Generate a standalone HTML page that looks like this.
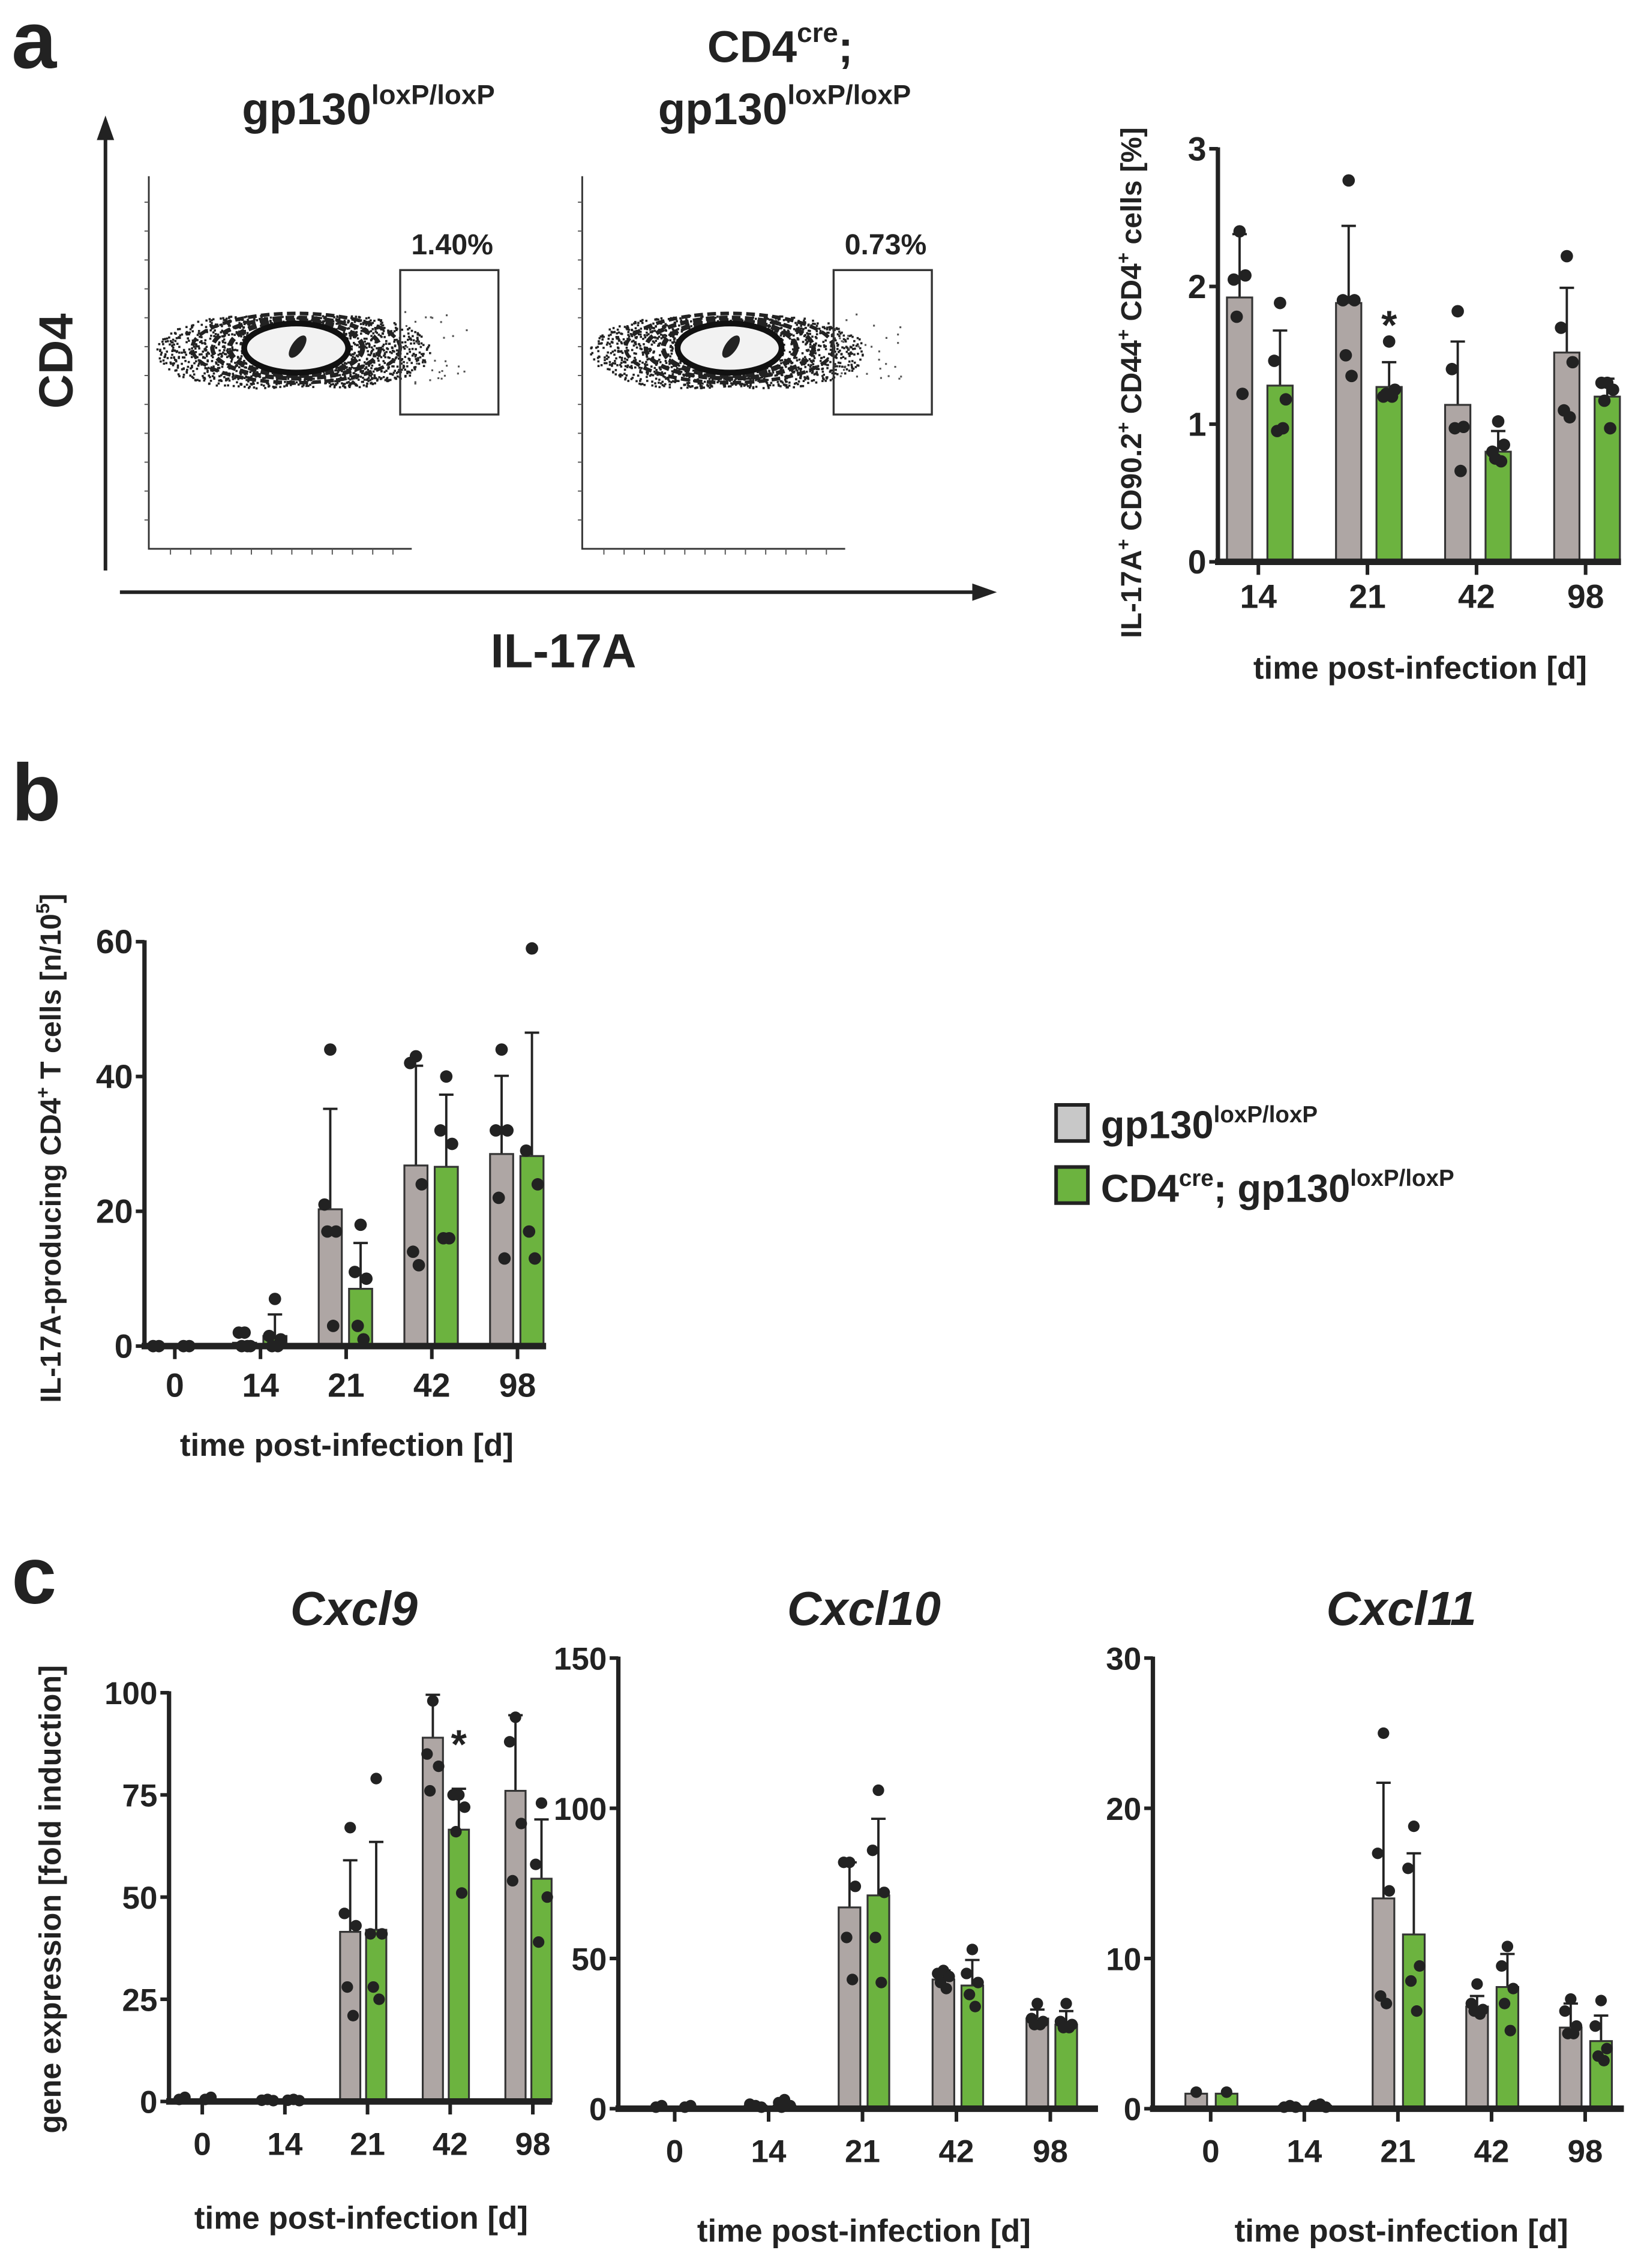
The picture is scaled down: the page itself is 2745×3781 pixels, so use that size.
<!DOCTYPE html>
<html><head><meta charset="utf-8">
<style>
html,body{margin:0;padding:0;background:#fff;}
svg{display:block;}
text{font-family:"Liberation Sans",Arial,sans-serif;font-weight:bold;fill:#222;}
</style></head>
<body>
<svg id="fig" width="2745" height="3781" viewBox="0 0 1140 1570.3" preserveAspectRatio="none" xmlns="http://www.w3.org/2000/svg">
<g id="panelA">
  <text x="8" y="47" font-size="56">a</text>
  <text x="255" y="86" font-size="31" text-anchor="middle">gp130<tspan font-size="19" dy="-14">loxP/loxP</tspan></text>
  <text x="540" y="43" font-size="31" text-anchor="middle">CD4<tspan font-size="19" dy="-14">cre</tspan><tspan dy="14">;</tspan></text>
  <text x="543" y="86" font-size="31" text-anchor="middle">gp130<tspan font-size="19" dy="-14">loxP/loxP</tspan></text>
  <line x1="73" y1="395" x2="73" y2="95" stroke="#222" stroke-width="2.5"/>
  <polygon points="67,97 79,97 73,80" fill="#222"/>
  <text transform="translate(50,250) rotate(-90)" font-size="33" text-anchor="middle">CD4</text>
  <line x1="83" y1="410" x2="675" y2="410" stroke="#222" stroke-width="2.5"/>
  <polygon points="673,404 673,416 690,410" fill="#222"/>
  <text x="390" y="462" font-size="33" text-anchor="middle">IL-17A</text>
  <g id="flow1"></g>
  <g id="flow2"></g>
  <g id="chartA"></g>
</g>
<g id="panelB">
  <text x="8" y="568" font-size="56">b</text>
  <g id="chartB"></g>
  <g>
    <rect x="731" y="765" width="22" height="25" fill="#c8c8c8" stroke="#222" stroke-width="2.5"/>
    <text x="762" y="788" font-size="27">gp130<tspan font-size="16" dy="-11">loxP/loxP</tspan></text>
    <rect x="731" y="808" width="22" height="25" fill="#6cb33f" stroke="#222" stroke-width="2.5"/>
    <text x="762" y="832" font-size="27">CD4<tspan font-size="16" dy="-11">cre</tspan><tspan dy="11">; gp130</tspan><tspan font-size="16" dy="-11">loxP/loxP</tspan></text>
  </g>
</g>
<g id="panelC">
  <text x="8" y="1110" font-size="56">c</text>
  <text x="245" y="1125" font-size="33" font-style="italic" text-anchor="middle">Cxcl9</text>
  <text x="598" y="1125" font-size="33" font-style="italic" text-anchor="middle">Cxcl10</text>
  <text x="970" y="1125" font-size="33" font-style="italic" text-anchor="middle">Cxcl11</text>
  <text transform="translate(42,1315) rotate(-90)" font-size="21" text-anchor="middle">gene expression [fold induction]</text>
  <g id="chartC1"></g>
  <g id="chartC2"></g>
  <g id="chartC3"></g>
</g>
</svg>
<script>
// ---------- data ----------
const catsA = ['14','21','42','98'];
const wtMeanA = [1.92,1.88,1.14,1.52];
const wtErrA = [2.38,2.44,1.60,1.99];
const koMeanA = [1.28,1.27,0.80,1.20];
const koErrA = [1.68,1.45,0.95,1.33];
const wtPtsA = [[2.40,2.05,2.08,1.78,1.22],[2.77,1.90,1.90,1.50,1.35],[1.82,1.40,0.98,0.97,0.66],[2.22,1.70,1.45,1.10,1.05]];
const koPtsA = [[1.88,1.46,1.18,0.95,0.97],[1.60,1.20,1.25,1.22,1.20],[1.02,0.80,0.85,0.75,0.73],[1.30,1.30,1.25,1.17,0.97]];
const ticksA = [0,1,2,3];

const catsB = ['0','14','21','42','98'];
const wtMeanB = [0,0.5,20.3,26.8,28.5];
const wtErrB = [0,0.5,35.2,41.6,40.1];
const koMeanB = [0,1.5,8.5,26.6,28.2];
const koErrB = [0,4.7,15.3,37.3,46.5];
const wtPtsB = [[0,0],[2,2,0,0,0],[44,21,17,17,3],[43,42,24,14,12],[44,32,32,22,13]];
const koPtsB = [[0,0],[7,1.5,1,0,0],[18,11,10,3,1],[40,32,30,16,16],[59,29,24,17,13]];
const ticksB = [0,20,40,60];

const catsC = ['0','14','21','42','98'];
const wtMeanC1 = [0.5,0.3,41.5,89,76];
const wtErrC1 = [0.5,0.3,59,99.5,94.5];
const koMeanC1 = [0.5,0.3,42,66.5,54.5];
const koErrC1 = [0.5,0.3,63.5,76.5,69];
const wtPtsC1 = [[1,0.5],[0.5,0.3,0.2],[67,46,43,28,21],[98,85,82,76],[94,88,68,54]];
const koPtsC1 = [[1,0.5],[0.5,0.3,0.2],[79,41,41,28,25],[75,75,72,66,51],[73,58,50,39]];
const ticksC1 = [0,25,50,75,100];

const wtMeanC2 = [0.5,1,67,43,30];
const wtErrC2 = [0.5,1,82,46,33];
const koMeanC2 = [0.5,1,71,41,28];
const koErrC2 = [0.5,1,96.5,49.5,32.5];
const wtPtsC2 = [[1,0.5],[1,1.5,0.5],[82,82,74,57,43],[46,45,44,42,40],[35,30,29,28,28]];
const koPtsC2 = [[1,0.5],[3,2,1,0.5],[106,86,72,57,42],[53,45,42,38,34],[35,29,28,27,27]];
const ticksC2 = [0,50,100,150];

const wtMeanC3 = [1.0,0.2,14,6.8,5.4];
const wtErrC3 = [1.0,0.2,21.7,7.5,7.0];
const koMeanC3 = [1.0,0.2,11.6,8.1,4.5];
const koErrC3 = [1.0,0.2,17,10.3,6.2];
const wtPtsC3 = [[1.1],[0.2,0.1,0.1],[25,17,14.5,7.5,7],[8.3,7,6.6,6.5,6.3],[7.3,6.5,5.5,5,5]];
const koPtsC3 = [[1.1],[0.3,0.2,0.1],[18.8,16,9.5,8.5,6.5],[10.8,9.5,8,7,5.2],[7.2,5.5,4,3.5,3.2]];
const ticksC3 = [0,10,20,30];

// ---------- drawing ----------
const NS='http://www.w3.org/2000/svg';
const GRAY='#aea6a4', GREEN='#6cb33f', INK='#222';
function mk(tag, parent, attrs){
  const e=document.createElementNS(NS,tag);
  for(const k in attrs) e.setAttribute(k,attrs[k]);
  parent.appendChild(e); return e;
}
const jit=[0,-4,4,-2,2];
function drawChart(g, o){
  const yS=v=>o.y0-(v-o.ymin)/(o.ymax-o.ymin)*(o.y0-o.y1);
  const xS=i=>o.xStart+i*o.step;
  o.cats.forEach((c,i)=>{
    const series=[[o.wtM,o.wtE,o.wtP,GRAY,-o.off,'wt'],[o.koM,o.koE,o.koP,GREEN,o.off2,'ko']];
    series.forEach(s=>{
      const cx=xS(i)+s[4], m=s[0][i], e=s[1][i];
      if(e>m){
        const l=mk('line',g,{x1:cx,x2:cx,y1:yS(m),y2:yS(e),stroke:INK,'stroke-width':1.6});
        
        
        const cap=mk('line',g,{x1:cx-5,x2:cx+5,y1:yS(e),y2:yS(e),stroke:INK,'stroke-width':1.6});
        
        
      }
      const r=mk('rect',g,{x:cx-o.bw/2,y:yS(m),width:o.bw,height:Math.max(0,o.y0-yS(m)),fill:s[3],stroke:'#333','stroke-width':1.3});
      
      
      s[2][i].forEach((v,j)=>{
        const d=mk('circle',g,{cx:cx+jit[j%5],cy:yS(v),r:o.r||4.3,fill:INK});
        
        
      });
    });
    const t=mk('line',g,{x1:xS(i),x2:xS(i),y1:o.y0,y2:o.y0+9,stroke:INK,'stroke-width':2.5});
    
    
    const tl=mk('text',g,{x:xS(i),y:o.y0+o.tly,'font-size':o.tfs||23,'text-anchor':'middle'});
    tl.textContent=c;
    
    
  });
  const ya=mk('line',g,{x1:o.x0,x2:o.x0,y1:o.y1-1,y2:o.y0,stroke:INK,'stroke-width':3});
  
  
  const xa=mk('line',g,{x1:o.x0-2,x2:o.xEnd,y1:o.y0,y2:o.y0,stroke:INK,'stroke-width':4.5});
  
  
  o.ticks.forEach(v=>{
    const t=mk('line',g,{x1:o.x0-6,x2:o.x0,y1:yS(v),y2:yS(v),stroke:INK,'stroke-width':2.5});
    
    
    const tl=mk('text',g,{x:o.x0-8,y:yS(v)+8,'font-size':o.tfs||23,'text-anchor':'end'});
    tl.textContent=v;
    
    
  });
  if(o.xt){
    const xt=mk('text',g,{x:o.xtx,y:o.xty,'font-size':22,'text-anchor':'middle'});
    xt.textContent=o.xt;
    
    
  }
  (o.stars||[]).forEach(s=>{
    const st=mk('text',g,{x:xS(s[0])+o.off2,y:yS(s[1]),'font-size':28,'text-anchor':'middle'});
    st.textContent='*';
    
    
  });
  return {xS,yS};
}

drawChart(document.getElementById('chartA'),{cats:catsA,wtM:wtMeanA,wtE:wtErrA,koM:koMeanA,koE:koErrA,wtP:wtPtsA,koP:koPtsA,
  ticks:ticksA,ymin:0,ymax:3,y0:389,y1:103,x0:843,xEnd:1122,xStart:871,step:75.5,off:13,off2:15,bw:17.5,tly:32,
  xt:'time post-infection [d]',xtx:983,xty:470,stars:[[1,1.62]]});
(function(){
  const g=document.getElementById('chartA');
  const t=mk('text',g,{transform:'translate(790,265) rotate(-90)','font-size':20,'text-anchor':'middle'});
  t.innerHTML='IL-17A<tspan font-size="13" dy="-8">+</tspan><tspan dy="8"> CD90.2</tspan><tspan font-size="13" dy="-8">+</tspan><tspan dy="8"> CD44</tspan><tspan font-size="13" dy="-8">+</tspan><tspan dy="8"> CD4</tspan><tspan font-size="13" dy="-8">+</tspan><tspan dy="8"> cells [%]</tspan>';
  
  
})();

drawChart(document.getElementById('chartB'),{cats:catsB,wtM:wtMeanB,wtE:wtErrB,koM:koMeanB,koE:koErrB,wtP:wtPtsB,koP:koPtsB,
  ticks:ticksB,ymin:0,ymax:60,y0:932,y1:652,x0:100,xEnd:378,xStart:121,step:59.3,off:11,off2:10,bw:16,tly:35,
  xt:'time post-infection [d]',xtx:240,xty:1008});
(function(){
  const g=document.getElementById('chartB');
  const t=mk('text',g,{transform:'translate(42,795) rotate(-90)','font-size':20,'text-anchor':'middle'});
  t.innerHTML='IL-17A-producing CD4<tspan font-size="13" dy="-8">+</tspan><tspan dy="8"> T cells [n/10</tspan><tspan font-size="13" dy="-8">5</tspan><tspan dy="8">]</tspan>';
  
  
})();

drawChart(document.getElementById('chartC1'),{cats:catsC,wtM:wtMeanC1,wtE:wtErrC1,koM:koMeanC1,koE:koErrC1,wtP:wtPtsC1,koP:koPtsC1,
  ticks:ticksC1,ymin:0,ymax:100,y0:1455,y1:1172,x0:117,xEnd:382,xStart:140,step:57.2,off:12,off2:6,bw:14,tly:37,r:4,tfs:22,
  xt:'time post-infection [d]',xtx:250,xty:1543,stars:[[3,84]]});
drawChart(document.getElementById('chartC2'),{cats:catsC,wtM:wtMeanC2,wtE:wtErrC2,koM:koMeanC2,koE:koErrC2,wtP:wtPtsC2,koP:koPtsC2,
  ticks:ticksC2,ymin:0,ymax:150,y0:1460,y1:1148,x0:428,xEnd:760,xStart:467,step:65,off:9,off2:11,bw:15,tly:37,r:4,tfs:22,
  xt:'time post-infection [d]',xtx:598,xty:1552});
drawChart(document.getElementById('chartC3'),{cats:catsC,wtM:wtMeanC3,wtE:wtErrC3,koM:koMeanC3,koE:koErrC3,wtP:wtPtsC3,koP:koPtsC3,
  ticks:ticksC3,ymin:0,ymax:30,y0:1460,y1:1148,x0:798,xEnd:1124,xStart:838,step:64.8,off:10,off2:11,bw:15,tly:37,r:4,tfs:22,
  xt:'time post-infection [d]',xtx:970,xty:1552});

function flow(id, ox, gateLabel, seed){
  const g=document.getElementById(id);
  const ax=mk('path',g,{d:`M${ox} 122 V380 H${ox+182}`,fill:'none',stroke:'#333','stroke-width':1.2});
  
  
  for(let k=0;k<12;k++){
    const t=mk('line',g,{x1:ox-3,x2:ox,y1:140+k*20,y2:140+k*20,stroke:'#555','stroke-width':0.8});
    
    
    const tx=mk('line',g,{x1:ox+15+k*14,x2:ox+15+k*14,y1:380,y2:384,stroke:'#555','stroke-width':0.8});
    
    
  }
  const cx=ox+100, cy=243;
  let s=seed;
  const rnd=()=>{s=(s*9301+49297)%233280;return s/233280;};
  for(let k=0;k<1600;k++){
    const a=rnd()*6.283, rr=Math.sqrt(rnd());
    const d=mk('rect',g,{x:cx+Math.cos(a)*rr*95,y:cy+Math.sin(a)*rr*(24+8*Math.abs(Math.cos(a))),width:1.5,height:1.5,fill:'#222'});
    
    
  }
  [[72,24,2.5],[58,21,3],[46,19,3.5]].forEach(e=>{
    const el=mk('ellipse',g,{cx:cx+2,cy:cy-2,rx:e[0],ry:e[1],fill:'none',stroke:'#222','stroke-width':e[2],'stroke-dasharray':'6 3'});
    
    
  });
  const inner=mk('ellipse',g,{cx:cx+2,cy:cy-2,rx:36,ry:17,fill:'#f2f2f2',stroke:'#111','stroke-width':4});
  
  
  const core=mk('ellipse',g,{cx:cx+3,cy:cy-3,rx:4,ry:9,fill:'#222',transform:`rotate(35 ${cx+3} ${cy-3})`});
  
  
  for(let k=0;k<30;k++){
    const d=mk('rect',g,{x:ox+176+rnd()*45,y:215+rnd()*50,width:1.3,height:1.3,fill:'#555'});
    
    
  }
  const gate=mk('rect',g,{x:ox+174,y:187,width:68,height:100,fill:'none',stroke:'#333','stroke-width':1.4});
  
  
  const gl=mk('text',g,{x:ox+210,y:176,'font-size':20,'text-anchor':'middle'});
  gl.textContent=gateLabel;
  
  
}
flow('flow1',103,'1.40%',7);
flow('flow2',403,'0.73%',19);
</script>
</body></html>
